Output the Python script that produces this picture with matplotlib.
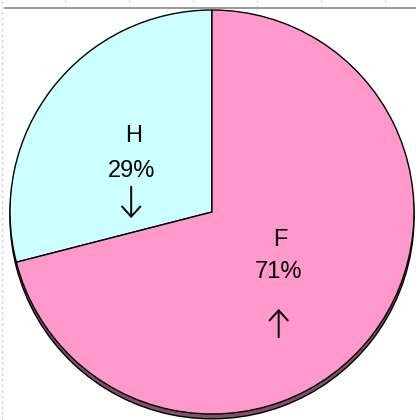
import matplotlib
matplotlib.use("Agg")
import matplotlib.pyplot as plt
from matplotlib.lines import Line2D

labels = ["H", "F"]
shares = [29, 71]
arrow_dirs = [-1, 1]   # H going down, F going up
colors = ["#CCFFFF", "#FF99CC"]
shadow_color = "#80506A"

plt.rcParams['font.family'] = ['Liberation Sans', 'DejaVu Sans']

fig = plt.figure(figsize=(4.16, 4.20), dpi=100)
ax = fig.add_axes([0, 0, 1, 1])

# worksheet gridlines behind the chart
fig.add_artist(Line2D([2 / 416, 2 / 416], [0, 1], color="#C8D2F0", lw=1,
                      ls=(0, (2, 2))))
for px in [65, 129, 193, 257, 321, 385]:
    fig.add_artist(Line2D([px / 416, px / 416], [1 - 8 / 420, 1],
                          color="#D8DEF2", lw=1, ls=(0, (2, 2))))
fig.add_artist(Line2D([5 / 416, 1], [1 - 8 / 420, 1 - 8 / 420],
                      color="#888888", lw=1.2))

# 3d depth / shadow
ax.pie(shares, colors=[shadow_color] * 2, startangle=90, counterclock=True,
       center=(0, -0.024), radius=1.0,
       wedgeprops=dict(edgecolor="black", linewidth=1.0))
ax.pie(shares, colors=colors, startangle=90, counterclock=True,
       center=(0, 0), radius=1.0,
       wedgeprops=dict(edgecolor="black", linewidth=1.0))
ax.set_xlim(-212 / 202, (416 - 212) / 202)
ax.set_ylim(-208 / 202, 212 / 202)
ax.set_aspect('auto')
ax.axis('off')

# label placement: name, percent, arrow (x, y_top, y_bottom)
pos = {"H": [(-0.39, 0.376), (-0.40, 0.205), (-0.40, 0.125, -0.03)],
       "F": [(0.34, -0.139), (0.33, -0.297), (0.33, -0.48, -0.62)]}
for lab, val, d in zip(labels, shares, arrow_dirs):
    p = pos[lab]
    ax.text(*p[0], lab, ha='center', va='center', fontsize=17)
    ax.text(*p[1], f"{val}%", ha='center', va='center', fontsize=17)
    x, y0, y1 = p[2]
    if d < 0:
        start, end = (x, y0), (x, y1)
    else:
        start, end = (x, y1), (x, y0)
    ax.annotate("", xy=end, xytext=start,
                arrowprops=dict(arrowstyle="->, head_length=0.33, head_width=0.3",
                                lw=1.4, color="black",
                                mutation_scale=22, shrinkA=0, shrinkB=0))

fig.savefig("out.png", dpi=100)
